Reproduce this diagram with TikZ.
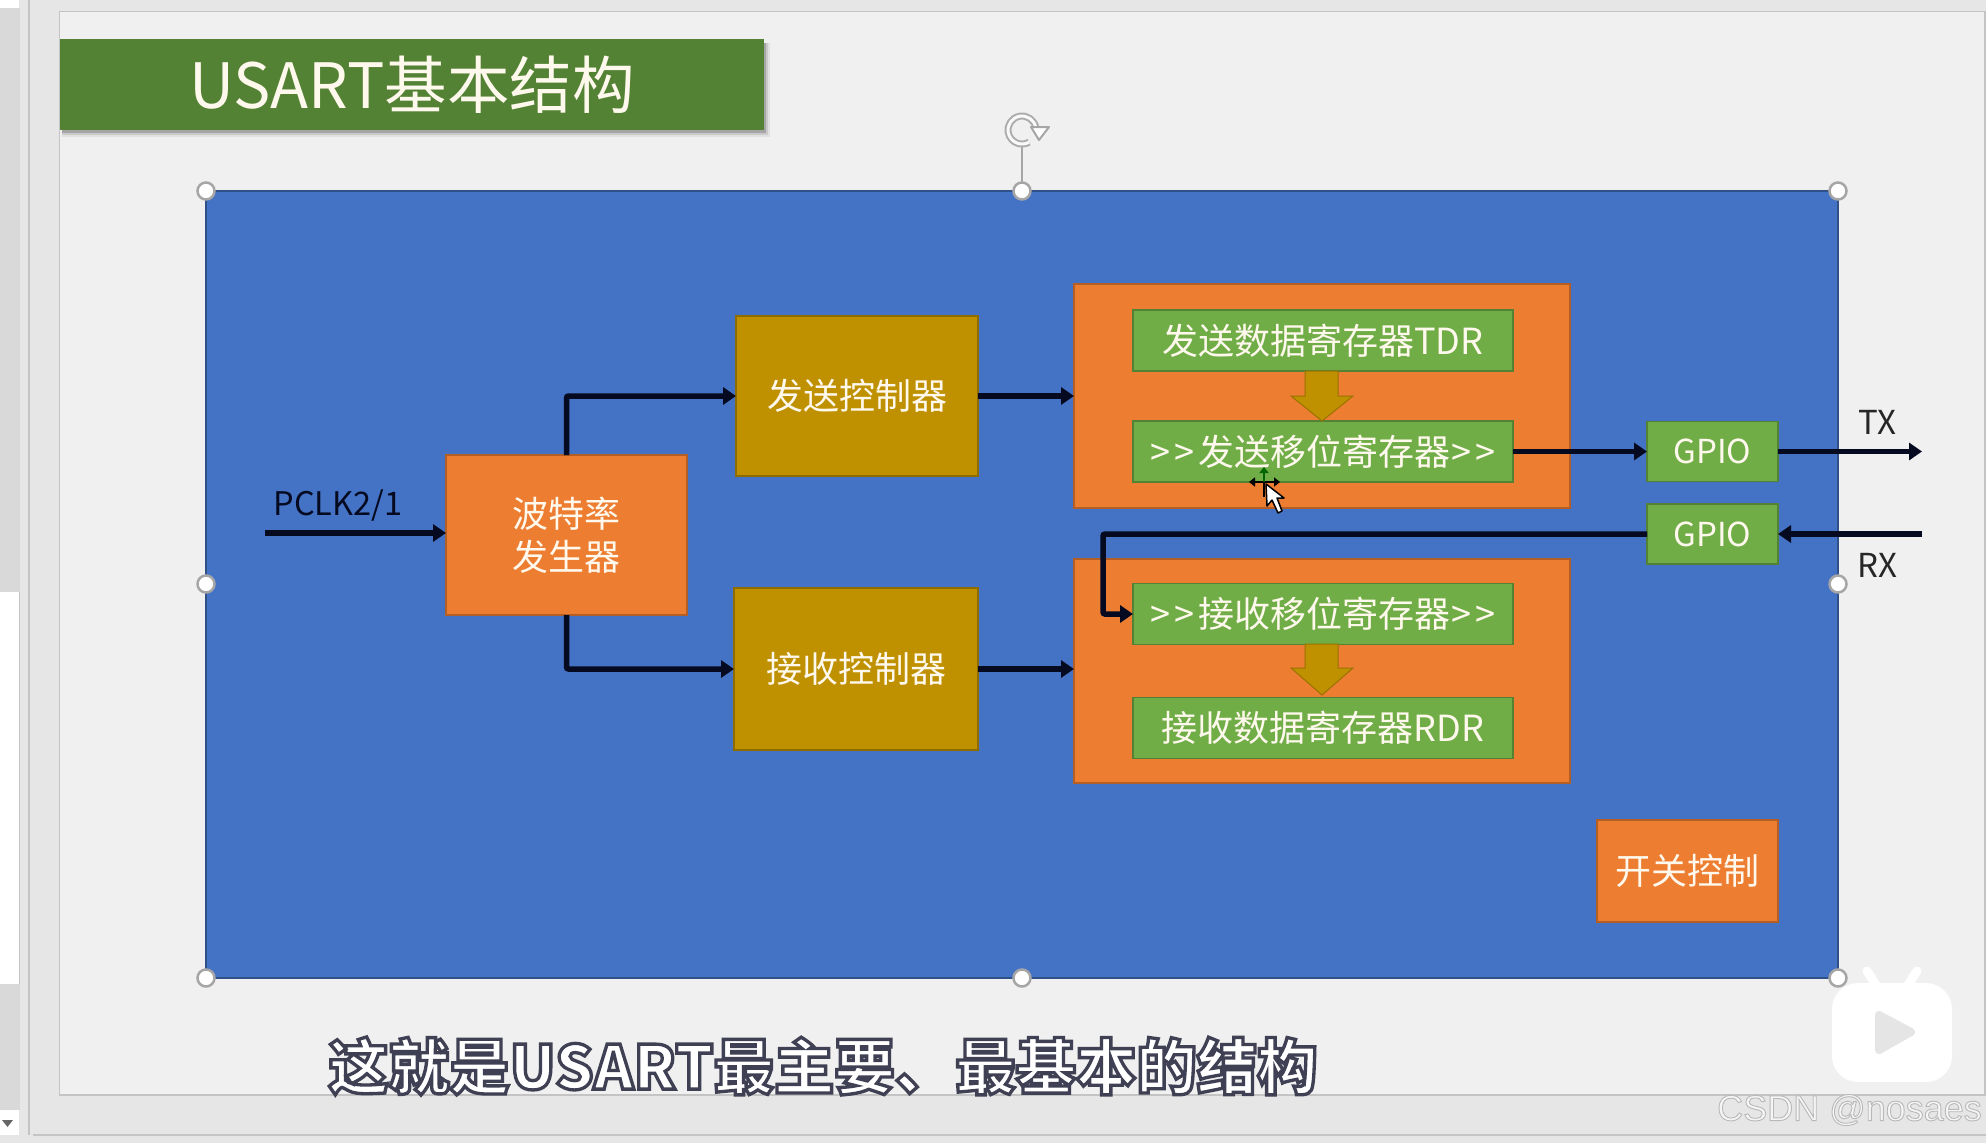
\documentclass[tikz,border=0pt]{standalone}
\usepackage{fontspec}
\usetikzlibrary{arrows.meta}
\setmainfont{Noto Sans CJK SC}
\newfontfamily\subfont[BoldFeatures={FakeBold=5.5}]{Noto Sans CJK SC}
\newfontfamily\markfont[FakeBold=2.5]{Liberation Sans}
\definecolor{slidebg}{HTML}{F0F0F0}
\definecolor{appbg}{HTML}{E6E6E6}
\definecolor{gutter}{HTML}{D9D9D9}
\definecolor{edge}{HTML}{C4C4C4}
\definecolor{blue1}{HTML}{4472C4}
\definecolor{orange1}{HTML}{ED7D31}
\definecolor{green1}{HTML}{70AD47}
\definecolor{green2}{HTML}{548235}
\definecolor{gold1}{HTML}{BF9000}
\definecolor{wire}{HTML}{050A20}
\definecolor{cream}{HTML}{FFF8EC}
\tikzset{
  box/.style={draw=#1!75!black,line width=1.3pt,inner sep=0pt,outer sep=0pt,align=center,text=cream,font=\fontsize{36}{43}\selectfont},
  orangebox/.style={box=orange1,fill=orange1},
  goldbox/.style={box=gold1,fill=gold1},
  greenbox/.style={box=green1,fill=green1},
  conn/.style={draw=wire,line width=5.5pt,-{Triangle[length=13pt,width=17pt]}},
  plainlabel/.style={inner sep=0pt,font=\fontsize{33}{40}\selectfont},
  handle/.style={circle,draw=gray!70,fill=white,line width=2.5pt,minimum size=17pt,inner sep=0pt},
  blockarrow/.style={fill=gold1,draw=gold1!80!black,line width=1pt},
}
\begin{document}
\begin{tikzpicture}[x=1pt,y=-1pt]
\useasboundingbox (0,0) rectangle (1986,1143);
% application window
\fill[appbg] (0,0) rectangle (1986,1143);
\fill[gutter] (0,8) rectangle (20,1110);
\fill[white] (0,0) rectangle (19,8);
\fill[white] (0,592) rectangle (19,984);
\draw[edge,line width=1pt] (19.5,592) -- (19.5,984);
\fill[white] (0,1110) rectangle (19,1135);
\fill[gray!80!black] (2,1120) -- (13,1120) -- (7.5,1127) -- cycle;
\draw[edge,line width=2pt] (28.5,0) -- (28.5,1135);
\draw[edge,line width=2pt] (33,1135) -- (1986,1135);
\fill[slidebg] (59.5,11.5) rectangle (1985,1095);
\draw[edge,line width=1.5pt] (1986,11.5) -- (59.5,11.5) -- (59.5,1095) -- (1985,1095) -- (1985,11.5);
% title
\fill[black,opacity=.06] (62,43) rectangle (770,137);
\fill[black,opacity=.10] (62,43) rectangle (768,135);
\fill[black,opacity=.18] (62,43) rectangle (766,133);
\node[fill=green2,inner sep=0pt,outer sep=0pt,minimum width=704pt,minimum height=91pt,text=cream,font=\fontsize{62.5}{72}\selectfont] (title) at (412,84.5) {\raisebox{-2.5pt}{USART基本结构}};
% main panel
\node[fill=blue1,draw=blue1!70!black,line width=1.5pt,inner sep=0pt,outer sep=0pt,minimum width=1632pt,minimum height=787pt] (panel) at (1022,584.5) {};
% boxes
\node[orangebox,minimum width=241pt,minimum height=160pt] (rate) at (566.5,535) {波特率\\发生器};
\node[goldbox,minimum width=242pt,minimum height=160pt] (send) at (857,396) {发送控制器};
\node[goldbox,minimum width=244pt,minimum height=162pt] (recv) at (856,669) {接收控制器};
\node[orangebox,minimum width=496pt,minimum height=224pt] (txgroup) at (1322,396) {};
\node[orangebox,minimum width=496pt,minimum height=224pt] (rxgroup) at (1322,671) {};
\node[greenbox,minimum width=380pt,minimum height=61pt] (tdr) at (1323,340.5) {发送数据寄存器TDR};
\node[greenbox,minimum width=380pt,minimum height=61pt] (tsr) at (1323,451.5) {>\kern4pt>\kern4pt发送移位寄存器\kern2pt>\kern4pt>};
\node[greenbox,minimum width=380pt,minimum height=61pt] (rsr) at (1323,614) {>\kern4pt>\kern4pt接收移位寄存器\kern2pt>\kern4pt>};
\node[greenbox,minimum width=380pt,minimum height=61pt] (rdr) at (1323,728) {接收数据寄存器RDR};
\node[greenbox,minimum width=131pt,minimum height=60pt,font=\fontsize{33}{40}\selectfont] (gpioa) at (1712.5,451.5) {GPIO};
\node[greenbox,minimum width=131pt,minimum height=60pt,font=\fontsize{33}{40}\selectfont] (gpiob) at (1712.5,534) {GPIO};
\node[orangebox,minimum width=181pt,minimum height=102pt] (sw) at (1687.5,871) {开关控制};
% block arrows
\draw[blockarrow] (1305,371) -- (1338,371) -- (1338,396) -- (1353,396) -- (1322,421) -- (1291,396) -- (1305,396) -- cycle;
\draw[blockarrow] (1305,644) -- (1338,644) -- (1338,668) -- (1353,668) -- (1322,695) -- (1291,668) -- (1305,668) -- cycle;
% labels
\node[plainlabel,text=wire,font=\fontsize{32.5}{38}\selectfont] (pclk) at (338,505) {PCLK2/1};
\node[plainlabel,text=black!85] (txl) at (1877,422) {TX};
\node[plainlabel,text=black!85] (rxl) at (1877,565) {RX};
% connectors
\coordinate (clkin) at (265,533);
\coordinate (txend) at (1922,451.5);
\coordinate (rxstart) at (1922,534);
\coordinate (rxbend) at (1103,534);
\draw[conn] (clkin) -- (clkin -| rate.west);
\draw[conn,rounded corners=2pt] (rate.north) |- (send.west);
\draw[conn,rounded corners=2pt] (rate.south) |- (recv.west);
\draw[conn] (send.east) -- (txgroup.west);
\draw[conn] (recv.east) -- (recv.east -| rxgroup.west);
\draw[conn] (tsr.east) -- (gpioa.west);
\draw[conn] (gpioa.east) -- (txend);
\draw[conn] (rxstart) -- (gpiob.east);
\draw[conn,rounded corners=2pt] (gpiob.west) -- (rxbend) |- (rsr.west);
% selection handles
\draw[gray!70,line width=1.5pt] (1022,146) -- (1022,184);
\foreach \n/\p in {a/{206,191},b/{1022,191},c/{1838,191},d/{206,584},e/{1838,584},f/{206,978},g/{1022,978},h/{1838,978}}
  \node[handle] (h\n) at (\p) {};
% rotate icon
\draw[gray!65,line width=7pt] (1035.8,127.6) arc (10:300:14pt);
\draw[white!95!gray,line width=3pt] (1035.8,127.6) arc (10:300:14pt);
\draw[gray!70,fill=white,line width=2pt,line join=round] (1031,127) -- (1049,127) -- (1039,140) -- cycle;
% cursor
\draw[black,line width=2pt] (1264,482) -- (1264,497);
\draw[black,line width=2pt,{Triangle[length=6pt,width=9pt]}-{Triangle[length=6pt,width=9pt]}] (1249,482) -- (1280,482);
\draw[green!40!black,line width=2pt,-{Triangle[length=6pt,width=9pt]}] (1264,482) -- (1264,467);
\draw[black,fill=white,line width=1.5pt,line join=round] (1266,484) -- (1267,506) -- (1272,500) -- (1278,513) -- (1282,511) -- (1277,498) -- (1284,498) -- cycle;
% bilibili badge
\draw[white,line width=9pt,line cap=round] (1867,971) -- (1878,988);
\draw[white,line width=9pt,line cap=round] (1917,971) -- (1906,988);
\fill[white,rounded corners=26pt] (1832,983) rectangle (1952,1082);
\fill[black!10,draw=black!10,line width=8pt,line join=round] (1879,1015) -- (1911,1032) -- (1879,1050) -- cycle;
% subtitle and watermark
\node[inner sep=0pt,text=white,font=\subfont\bfseries\fontsize{60.4}{70}\selectfont] (subtitle) at (823,1066) {\special{pdf:code 0.25 0.25 0.33 RG}这就是USART最主要、最基本的结构};
\node[inner sep=0pt,text=black!4,font=\markfont\fontsize{36}{42}\selectfont] (mark) at (1849.5,1110) {\special{pdf:code 0.72 0.72 0.72 RG}CSDN @nosaes};
\end{tikzpicture}
\end{document}
